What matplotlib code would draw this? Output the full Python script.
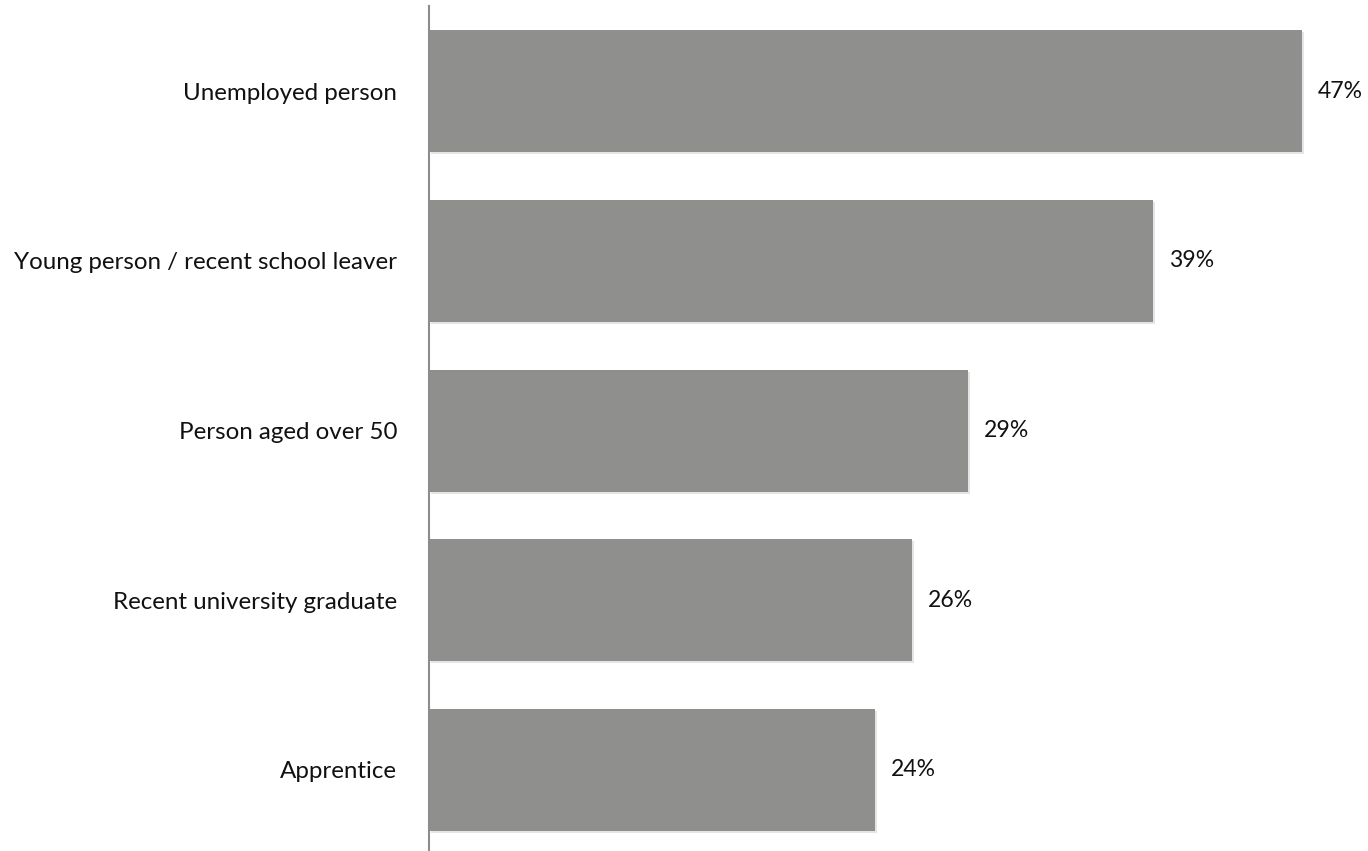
import matplotlib
matplotlib.use("Agg")
import matplotlib.pyplot as plt
import matplotlib.patheffects as pe

plt.rcParams["font.family"] = ["Lato", "DejaVu Sans"]

# ── data ─────────────────────────────────────────────────────────────────────
categories = ["Unemployed person",
              "Young person / recent school leaver",
              "Person aged over 50",
              "Recent university graduate",
              "Apprentice"]
shares = [47, 39, 29, 26, 24]

# ── figure ───────────────────────────────────────────────────────────────────
W, H, DPI = 1368, 851, 100
fig = plt.figure(figsize=(W / DPI, H / DPI), dpi=DPI)

# axes placed in pixel terms: spine at x=429, top at y=6, bottom at y=851
ax_left, ax_top, ax_bottom = 429, 6, 851
ax = fig.add_axes([ax_left / W, 0, (W - ax_left) / W, (ax_bottom - ax_top) / H])

px_per_pct = 873 / 47
ax.set_xlim(0, (W - ax_left) / px_per_pct)
ax.set_ylim(4 + 81 / 169.75, -85 / 169.75)

ypos = list(range(len(categories)))
bars = ax.barh(ypos, shares, height=122 / 169.75, color="#8f908e", zorder=2)
for b in bars:
    b.set_path_effects([pe.SimplePatchShadow(offset=(1.5, -1.5), shadow_rgbFace="#000000", alpha=0.1),
                        pe.Normal()])

for y, v in zip(ypos, shares):
    ax.text(v + 16 / px_per_pct, y, f"{v}%", va="center", ha="left",
            fontsize=16.6, color="#111111")

ax.set_yticks(ypos)
ax.set_yticklabels(categories, fontsize=17.4, color="#111111")
ax.tick_params(axis="y", length=0, pad=23)
ax.set_xticks([])

for s in ["top", "right", "bottom"]:
    ax.spines[s].set_visible(False)
ax.spines["left"].set_color("#8c8c8c")
ax.spines["left"].set_linewidth(1.5)

fig.savefig("out.png", dpi=DPI, facecolor="white")
